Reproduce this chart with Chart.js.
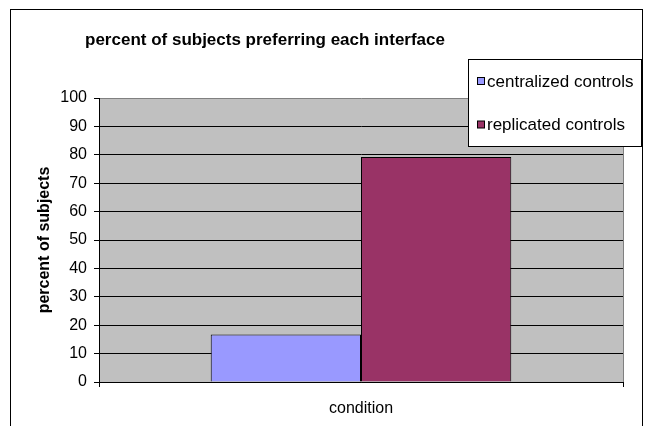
<!DOCTYPE html>
<html>
<head>
<meta charset="utf-8">
<script src="https://cdn.jsdelivr.net/npm/chart.js@4.4.1/dist/chart.umd.min.js"></script>
<style>
  html, body { margin: 0; padding: 0; background: #fff; }
</style>
</head>
<body>
<canvas id="chart1" width="646" height="426"></canvas>
<script>
const categories = ['condition'];
const seriesNames = ['centralized controls', 'replicated controls'];
const seriesColors = ['#9999FF', '#993366'];
const centralizedValues = [16.7];
const replicatedValues = [79.2];
const yTicks = [0, 10, 20, 30, 40, 50, 60, 70, 80, 90, 100];
const chartTitle = 'percent of subjects preferring each interface';
const yAxisTitle = 'percent of subjects';

const FONT = '"Liberation Sans", Arial, sans-serif';

// gray plot area like the old excel charts
const plotBg = {
    id: 'plotBg',
    beforeDraw(chart) {
        const { ctx, chartArea: a } = chart;
        ctx.save();
        ctx.fillStyle = '#fff';
        ctx.fillRect(0, 0, chart.width, chart.height);
        ctx.fillStyle = '#C0C0C0';
        ctx.fillRect(a.left, a.top, a.right - a.left, a.bottom - a.top);
        ctx.restore();
    },
    afterDraw(chart) {
        const { ctx, chartArea: a } = chart;
        ctx.save();
        ctx.lineWidth = 1;
        // right edge of plot
        ctx.strokeStyle = '#808080';
        ctx.beginPath();
        ctx.moveTo(Math.round(a.right) + 0.5, a.top);
        ctx.lineTo(Math.round(a.right) + 0.5, a.bottom);
        ctx.stroke();
        // outer chart frame
        ctx.strokeStyle = '#000';
        ctx.strokeRect(10.5, 9.5, 632, 430);

        // title
        ctx.fillStyle = '#000';
        ctx.font = 'bold 17px ' + FONT;
        ctx.textAlign = 'center';
        ctx.textBaseline = 'alphabetic';
        ctx.fillText(chartTitle, 265, 45);

        // legend box
        ctx.fillStyle = '#fff';
        ctx.fillRect(468.5, 59.5, 173, 87);
        ctx.strokeStyle = '#000';
        ctx.strokeRect(468.5, 59.5, 173, 87);
        ctx.font = '17px ' + FONT;
        ctx.textAlign = 'left';
        ctx.textBaseline = 'middle';
        chart.data.datasets.forEach((ds, i) => {
            const cy = 81 + i * 43.5;
            ctx.fillStyle = ds.backgroundColor;
            ctx.fillRect(477.5, cy - 3.5, 7, 7);
            ctx.strokeStyle = '#000';
            ctx.strokeRect(477.5, cy - 3.5, 7, 7);
            ctx.fillStyle = '#000';
            ctx.fillText(ds.label, 487, cy + 1);
        });
        ctx.restore();
    }
};

const ctx1 = document.getElementById('chart1').getContext('2d');
const chart1 = new Chart(ctx1, {
    type: 'bar',
    data: {
        labels: categories,
        datasets: [{
            label: seriesNames[0],
            data: centralizedValues,
            backgroundColor: seriesColors[0],
            borderColor: '#000',
            borderWidth: 1
        }, {
            label: seriesNames[1],
            data: replicatedValues,
            backgroundColor: seriesColors[1],
            borderColor: '#000',
            borderWidth: 1
        }]
    },
    options: {
        responsive: false,
        animation: false,
        layout: { padding: { top: 98, right: 23, left: 0, bottom: 0 } },
        categoryPercentage: 0.5736,
        barPercentage: 1,
        plugins: {
            legend: { display: false },
            title: { display: false },
            tooltip: { enabled: false }
        },
        scales: {
            x: {
                afterFit: s => { s.height = 44; },
                grid: { offset: true, drawOnChartArea: false, drawTicks: true, tickLength: 5, color: '#000' },
                border: { color: '#000', width: 1 },
                ticks: { color: '#000', font: { family: FONT, size: 16 }, padding: 12 }
            },
            y: {
                min: 0,
                max: 100,
                afterFit: s => { s.width = 99; },
                afterBuildTicks: s => { s.ticks = yTicks.map(v => ({ value: v })); },
                grid: {
                    color: c => (c.tick && c.tick.value === 100) ? '#808080' : '#000',
                    tickColor: '#000',
                    tickLength: 5
                },
                border: { color: '#000', width: 1 },
                ticks: { color: '#000', font: { family: FONT, size: 16 }, padding: 7 },
                title: {
                    display: true,
                    text: yAxisTitle,
                    color: '#000',
                    font: { family: FONT, size: 16, weight: 'bold' },
                    padding: { top: 35, bottom: 0 }
                }
            }
        }
    },
    plugins: [plotBg]
});
</script>
</body>
</html>
